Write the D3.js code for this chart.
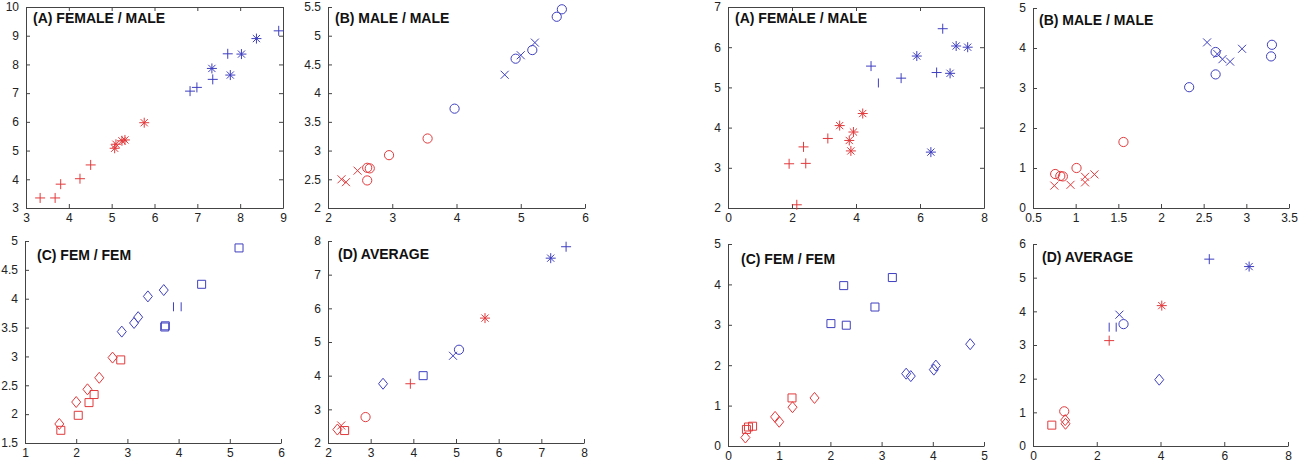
<!DOCTYPE html>
<html><head><meta charset="utf-8">
<script src="https://cdn.jsdelivr.net/npm/d3@7/dist/d3.min.js"></script>
<style>
body{margin:0;background:#fff;}
text{font-family:"Liberation Sans",Arial,Helvetica,sans-serif;}
</style></head>
<body><svg id="c" width="1314" height="465"></svg>
<script>
// ---------- DATA ----------
// Left group
const LA_redPlus = [[3.33,3.35],[3.68,3.35],[3.81,3.83],[4.26,4.02],[4.51,4.50]];
const LA_redStar = [[5.07,5.08],[5.10,5.22],[5.24,5.34],[5.31,5.37],[5.76,5.97]];
const LA_bluePlus = [[6.83,7.07],[6.99,7.20],[7.36,7.48],[7.71,8.37],[8.90,9.17]];
const LA_blueStar = [[7.34,7.86],[7.77,7.63],[8.03,8.36],[8.38,8.90]];

const LB_redCircle = [[2.61,2.70],[2.65,2.69],[2.61,2.48],[2.95,2.92],[3.55,3.21]];
const LB_redX = [[2.21,2.50],[2.28,2.45],[2.46,2.65]];
const LB_blueCircle = [[3.97,3.73],[4.92,4.60],[5.18,4.75],[5.56,5.33],[5.64,5.46]];
const LB_blueX = [[4.75,4.32],[5.00,4.66],[5.22,4.88]];

const LC_redDiamond = [[1.67,1.83],[2.00,2.21],[2.22,2.43],[2.45,2.63],[2.71,2.98]];
const LC_redSquare = [[1.70,1.72],[2.04,1.98],[2.25,2.20],[2.35,2.34],[2.87,2.94]];
const LC_blueDiamond = [[2.89,3.43],[3.13,3.58],[3.21,3.68],[3.40,4.04],[3.71,4.15]];
const LC_blueSquare = [[3.73,3.51],[3.74,3.53],[4.45,4.25],[5.18,4.88]];
const LC_blueBar = [[3.90,3.86],[4.05,3.86]];

const LD_red = [["diamond",2.22,2.40],["x",2.31,2.52],["square",2.39,2.37],["circle",2.88,2.77],["plus",3.93,3.76],["star",5.68,5.71]];
const LD_blue = [["diamond",3.29,3.76],["square",4.23,4.00],["x",4.93,4.59],["circle",5.07,4.77],["star",7.22,7.49],["plus",7.58,7.83]];

// Right group
const RA_redPlus = [[1.91,3.10],[2.15,2.08],[2.36,3.52],[2.43,3.11],[3.12,3.73]];
const RA_redStar = [[3.49,4.05],[3.79,3.68],[3.92,3.89],[3.84,3.42],[4.21,4.35]];
const RA_bluePlus = [[4.47,5.53],[5.41,5.23],[6.52,5.37],[6.71,6.46]];
const RA_blueBar = [[4.70,5.11]];
const RA_blueStar = [[5.90,5.78],[6.34,3.39],[6.94,5.35],[7.13,6.03],[7.49,6.00]];

const RB_redCircle = [[0.76,0.85],[0.82,0.80],[0.85,0.79],[1.01,1.00],[1.56,1.65]];
const RB_redX = [[0.75,0.56],[0.94,0.58],[1.11,0.78],[1.11,0.64],[1.22,0.84]];
const RB_blueCircle = [[2.33,3.02],[2.64,3.34],[2.64,3.90],[3.30,4.08],[3.29,3.79]];
const RB_blueX = [[2.54,4.14],[2.66,3.85],[2.72,3.72],[2.81,3.66],[2.95,3.98]];

const RC_redSquare = [[0.36,0.41],[0.40,0.47],[0.48,0.49],[1.25,1.19]];
const RC_redDiamond = [[0.34,0.21],[0.92,0.72],[1.00,0.60],[1.26,0.96],[1.69,1.19]];
const RC_blueSquare = [[2.01,3.03],[2.26,3.97],[2.31,2.99],[2.87,3.44],[3.21,4.17]];
const RC_blueDiamond = [[3.48,1.79],[3.57,1.73],[4.02,1.89],[4.06,1.99],[4.73,2.52]];

const RD_red = [["square",0.59,0.62],["circle",0.98,1.03],["diamond",1.01,0.77],["diamond",1.02,0.66],["plus",2.39,3.13],["star",4.04,4.17]];
const RD_blue = [["bar",2.39,3.53],["bar",2.61,3.53],["x",2.71,3.90],["circle",2.84,3.62],["diamond",3.96,1.97],["plus",5.53,5.55],["star",6.78,5.33]];

// Tick labels
const ticksLA_x = [3,4,5,6,7,8,9], ticksLA_y = [3,4,5,6,7,8,9,10];
const ticksLB_x = [2,3,4,5,6], ticksLB_y = [2,2.5,3,3.5,4,4.5,5,5.5];
const ticksLC_x = [1,2,3,4,5,6], ticksLC_y = [1.5,2,2.5,3,3.5,4,4.5,5];
const ticksLD_x = [2,3,4,5,6,7,8], ticksLD_y = [2,3,4,5,6,7,8];
const ticksRA_x = [0,2,4,6,8], ticksRA_y = [2,3,4,5,6,7];
const ticksRB_x = [0.5,1,1.5,2,2.5,3,3.5], ticksRB_y = [0,1,2,3,4,5];
const ticksRC_x = [0,1,2,3,4,5], ticksRC_y = [0,1,2,3,4,5];
const ticksRD_x = [0,2,4,6,8], ticksRD_y = [0,1,2,3,4,5,6];

const titles = ["(A) FEMALE / MALE","(B) MALE / MALE","(C) FEM / FEM","(D) AVERAGE"];

// ---------- STYLE / LAYOUT ----------
const RED = "#e23a3c", BLUE = "#3f3fc0";
const pts = (arr, m) => arr.map(d => [m, d[0], d[1]]);

const panels = [
  {t:0, l:26, r:283, tp:7, b:208, x:[3,9], y:[3,10], tx:ticksLA_x, ty:ticksLA_y, box:true, ttx:33, tty:23,
   series:[[RED,pts(LA_redPlus,"plus")],[RED,pts(LA_redStar,"star")],[BLUE,pts(LA_bluePlus,"plus")],[BLUE,pts(LA_blueStar,"star")]]},
  {t:1, l:328, r:585, tp:7, b:208, x:[2,6], y:[2,5.5], tx:ticksLB_x, ty:ticksLB_y, box:false, ttx:335, tty:23,
   series:[[RED,pts(LB_redCircle,"circle")],[RED,pts(LB_redX,"x")],[BLUE,pts(LB_blueCircle,"circle")],[BLUE,pts(LB_blueX,"x")]]},
  {t:2, l:25, r:281, tp:241, b:443, x:[1,6], y:[1.5,5], tx:ticksLC_x, ty:ticksLC_y, box:false, ttx:37, tty:260,
   series:[[RED,pts(LC_redDiamond,"diamond")],[RED,pts(LC_redSquare,"square")],[BLUE,pts(LC_blueDiamond,"diamond")],[BLUE,pts(LC_blueSquare,"square")],[BLUE,pts(LC_blueBar,"bar")]]},
  {t:3, l:328, r:584, tp:241, b:443, x:[2,8], y:[2,8], tx:ticksLD_x, ty:ticksLD_y, box:false, ttx:338, tty:259,
   series:[[RED,LD_red],[BLUE,LD_blue]]},
  {t:0, l:728, r:984, tp:7, b:208, x:[0,8], y:[2,7], tx:ticksRA_x, ty:ticksRA_y, box:true, ttx:735, tty:23,
   series:[[RED,pts(RA_redPlus,"plus")],[RED,pts(RA_redStar,"star")],[BLUE,pts(RA_bluePlus,"plus")],[BLUE,pts(RA_blueBar,"bar")],[BLUE,pts(RA_blueStar,"star")]]},
  {t:1, l:1033, r:1289, tp:8, b:208, x:[0.5,3.5], y:[0,5], tx:ticksRB_x, ty:ticksRB_y, box:false, ttx:1039, tty:25,
   series:[[RED,pts(RB_redCircle,"circle")],[RED,pts(RB_redX,"x")],[BLUE,pts(RB_blueCircle,"circle")],[BLUE,pts(RB_blueX,"x")]]},
  {t:2, l:728, r:984, tp:244, b:446, x:[0,5], y:[0,5], tx:ticksRC_x, ty:ticksRC_y, box:false, ttx:741, tty:264,
   series:[[RED,pts(RC_redSquare,"square")],[RED,pts(RC_redDiamond,"diamond")],[BLUE,pts(RC_blueSquare,"square")],[BLUE,pts(RC_blueDiamond,"diamond")]]},
  {t:3, l:1033, r:1288, tp:244, b:446, x:[0,8], y:[0,6], tx:ticksRD_x, ty:ticksRD_y, box:false, ttx:1042, tty:262,
   series:[[RED,RD_red],[BLUE,RD_blue]]}
];

function marker(m){
  const p = d3.path();
  if(m==="plus"){p.moveTo(-5,0);p.lineTo(5,0);p.moveTo(0,-5);p.lineTo(0,5);}
  else if(m==="x"){p.moveTo(-4,-4);p.lineTo(4,4);p.moveTo(-4,4);p.lineTo(4,-4);}
  else if(m==="star"){p.moveTo(-5,0);p.lineTo(5,0);p.moveTo(0,-5);p.lineTo(0,5);
    p.moveTo(-3.6,-3.6);p.lineTo(3.6,3.6);p.moveTo(-3.6,3.6);p.lineTo(3.6,-3.6);}
  else if(m==="circle"){p.moveTo(4.6,0);p.arc(0,0,4.6,0,2*Math.PI);}
  else if(m==="square"){p.rect(-4,-4,8,8);}
  else if(m==="diamond"){p.moveTo(0,-5.5);p.lineTo(4.5,0);p.lineTo(0,5.5);p.lineTo(-4.5,0);p.closePath();}
  else if(m==="bar"){p.moveTo(0,-4.5);p.lineTo(0,4.5);}
  return p.toString();
}

const svg = d3.select("#c");
const AX = "#444";
panels.forEach(P => {
  const xs = d3.scaleLinear().domain(P.x).range([P.l,P.r]);
  const ys = d3.scaleLinear().domain(P.y).range([P.b,P.tp]);
  const g = svg.append("g");
  const fmt = d => String(d);
  g.append("g").attr("transform",`translate(0,${P.b})`)
    .call(d3.axisBottom(xs).tickValues(P.tx).tickSizeInner(-4).tickSizeOuter(0).tickPadding(5).tickFormat(fmt));
  g.append("g").attr("transform",`translate(${P.l},0)`)
    .call(d3.axisLeft(ys).tickValues(P.ty).tickSizeInner(-4).tickSizeOuter(0).tickPadding(7).tickFormat(fmt));
  if(P.box){
    g.append("g").attr("transform",`translate(0,${P.tp})`)
      .call(d3.axisTop(xs).tickValues(P.tx).tickSizeInner(-4).tickSizeOuter(0).tickFormat(""));
    g.append("g").attr("transform",`translate(${P.r},0)`)
      .call(d3.axisRight(ys).tickValues(P.ty).tickSizeInner(-4).tickSizeOuter(0).tickFormat(""));
  }
  g.selectAll(".domain").attr("stroke",AX).attr("stroke-width",1);
  g.selectAll(".tick line").attr("stroke",AX);
  g.selectAll(".tick text").attr("font-size",12).attr("fill","#222")
    .attr("font-family","'Liberation Sans',Arial,sans-serif");
  P.series.forEach(([col,arr]) => {
    g.append("g").selectAll("path").data(arr).join("path")
      .attr("transform",d=>`translate(${xs(d[1])},${ys(d[2])})`)
      .attr("d",d=>marker(d[0]))
      .attr("fill","none").attr("stroke",col).attr("stroke-width",1);
  });
  g.append("text").attr("x",P.ttx).attr("y",P.tty).text(titles[P.t])
    .attr("font-size",14).attr("font-weight","bold").attr("fill","#111");
});
</script></body></html>
